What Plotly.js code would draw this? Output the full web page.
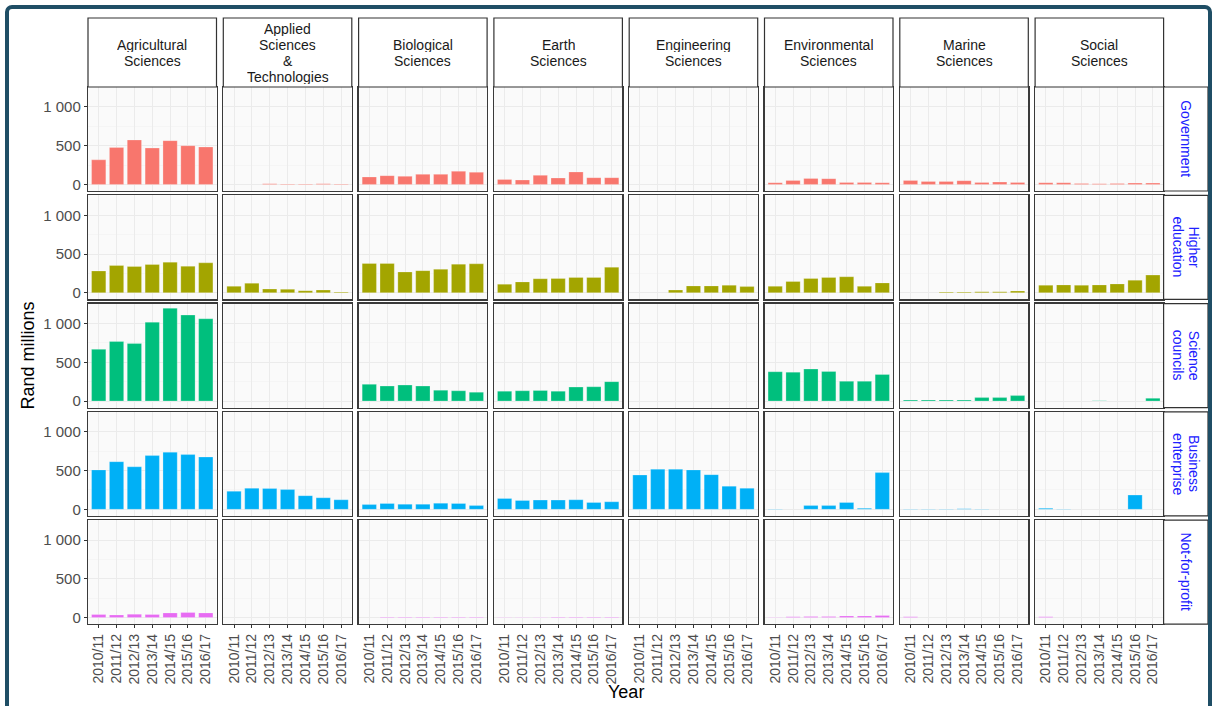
<!DOCTYPE html>
<html>
<head>
<meta charset="utf-8">
<script src="https://cdn.plot.ly/plotly-3.0.1.min.js"></script>
<style>
  html, body { margin: 0; padding: 0; background: #ffffff; overflow: hidden; }
  #chart { position: absolute; left: 0; top: 0; width: 1215px; height: 706px; }
  #frame { position: absolute; left: 5px; top: 5px; width: 1199px; height: 760px;
           border: 4px solid #1F4E65; border-radius: 7px; pointer-events: none; }
</style>
</head>
<body>
<div id="chart"></div>
<div id="frame"></div>
<script>
// ---------- data ----------
const years = ['2010/11', '2011/12', '2012/13', '2013/14', '2014/15', '2015/16', '2016/17'];
const fieldLabels = ['Agricultural<br>Sciences', 'Applied<br>Sciences<br>&<br>Technologies', 'Biological<br>Sciences',
  'Earth<br>Sciences', 'Engineering<br>Sciences', 'Environmental<br>Sciences', 'Marine<br>Sciences', 'Social<br>Sciences'];
const sectorLabels = ['Government', 'Higher<br>education', 'Science<br>councils', 'Business<br>enterprise', 'Not-for-profit'];
const sectorColors = ['#F8766D', '#A3A500', '#00BF7D', '#00B0F6', '#E76BF3'];
const yTickVals = [0, 500, 1000];
const yTickText = ['0', '500', '1 000'];

// values in Rand millions, one row per field (in fieldLabels order), one value per year
const government = [
  [317, 478, 574, 470, 565, 500, 483],
  [null, null, 8, 6, 6, 8, 6],
  [96, 113, 104, 130, 130, 170, 157],
  [65, 57, 117, 83, 161, 87, 87],
  [null, null, null, null, null, null, null],
  [22, 52, 78, 74, 26, 26, 22],
  [52, 39, 39, 48, 26, 30, 26],
  [22, 22, 13, 9, 13, 17, 17]
];
const higherEducation = [
  [281, 351, 338, 364, 395, 342, 386],
  [83, 123, 48, 44, 26, 35, 9],
  [378, 378, 268, 285, 303, 369, 373],
  [110, 140, 180, 184, 198, 198, 329],
  [null, null, 35, 88, 88, 97, 79],
  [83, 145, 184, 198, 206, 83, 127],
  [null, null, 9, 9, 13, 13, 22],
  [97, 101, 97, 101, 114, 162, 228]
];
const scienceCouncils = [
  [667, 768, 742, 1018, 1198, 1110, 1062],
  [null, null, null, null, null, null, null],
  [215, 193, 206, 193, 140, 132, 114],
  [127, 132, 136, 127, 180, 184, 250],
  [null, null, null, null, null, null, null],
  [378, 373, 413, 382, 255, 255, 342],
  [13, 13, 13, 13, 44, 44, 70],
  [null, null, null, 5, null, null, 35]
];
const businessEnterprise = [
  [509, 615, 549, 694, 738, 707, 676],
  [233, 272, 268, 255, 176, 149, 123],
  [61, 75, 66, 66, 79, 75, 48],
  [140, 114, 119, 119, 123, 88, 97],
  [443, 518, 518, 509, 448, 299, 272],
  [4, null, 48, 48, 88, 13, 474],
  [5, 5, 5, 8, 5, null, null],
  [13, 5, null, null, null, 184, null]
];
const notForProfit = [
  [40, 35, 44, 40, 61, 66, 61],
  [null, null, null, null, null, null, null],
  [null, 8, 8, 8, 8, 8, 8],
  [4, 4, 4, 8, 8, 8, 8],
  [null, null, null, null, null, null, null],
  [5, 10, 13, 13, 22, 22, 26],
  [10, null, null, null, null, null, null],
  [10, null, null, null, null, null, null]
];
const sectorData = [government, higherEducation, scienceCouncils, businessEnterprise, notForProfit];

// ---------- layout geometry (pixels) ----------
const W = 1215, H = 706;
const colLeft0 = 88, colPitch = 135.3, colW = 128.5;
const rowTop0 = 87, rowPitch = 108.3, rowH = 104;
const stripTop = 18;
const rStripRight = 1208;
const lineStep = 16;
const nRows = sectorLabels.length, nCols = fieldLabels.length;

const px = v => v / W;
const py = v => 1 - v / H;

const traces = [];
const layout = {
  width: W, height: H,
  margin: {l: 0, r: 0, t: 0, b: 0},
  paper_bgcolor: '#ffffff',
  plot_bgcolor: '#FAFAFA',
  showlegend: false,
  hovermode: false,
  font: {family: '"Liberation Sans", Arial, sans-serif', color: '#4D4D4D', size: 13},
  shapes: [],
  annotations: []
};

for (let r = 0; r < nRows; r++) {
  for (let c = 0; c < nCols; c++) {
    const k = r * nCols + c + 1;
    const left = colLeft0 + c * colPitch;
    const top = rowTop0 + r * rowPitch;
    const sfx = k === 1 ? '' : String(k);
    const isBottom = r === nRows - 1;
    const isLeft = c === 0;
    layout['xaxis' + sfx] = {
      domain: [px(left), px(left + colW)],
      anchor: 'y' + sfx,
      type: 'category',
      categoryorder: 'array', categoryarray: years,
      range: [-0.6, 6.6],
      showline: true, mirror: true, linecolor: '#3A3A3A', linewidth: 1.2,
      showgrid: true, gridcolor: '#EBEBEB', gridwidth: 1,
      zeroline: false,
      ticks: isBottom ? 'outside' : '', ticklen: 3, tickcolor: '#333333', tickwidth: 1,
      showticklabels: isBottom,
      tickangle: -90,
      tickfont: {size: 14, color: '#4D4D4D'},
      fixedrange: true
    };
    layout['yaxis' + sfx] = {
      domain: [py(top + rowH), py(top)],
      anchor: 'x' + sfx,
      range: [-85, 1258],
      tickmode: 'array', tickvals: yTickVals, ticktext: yTickText,
      showline: true, mirror: true, linecolor: '#3A3A3A', linewidth: 1.2,
      showgrid: true, gridcolor: '#EBEBEB', gridwidth: 1,
      minor: {tickmode: 'array', tickvals: [250, 750, 1250], showgrid: true, gridcolor: '#F2F2F2', gridwidth: 0.6, ticks: ''},
      zeroline: false,
      ticks: isLeft ? 'outside' : '', ticklen: 3, tickcolor: '#333333', tickwidth: 1,
      showticklabels: isLeft,
      tickfont: {size: 15, color: '#4D4D4D'},
      fixedrange: true
    };
    traces.push({
      type: 'bar',
      x: years,
      y: sectorData[r][c],
      xaxis: 'x' + sfx,
      yaxis: 'y' + sfx,
      width: 0.8,
      marker: {color: sectorColors[r], line: {color: 'rgba(255,255,255,0.35)', width: 0.7}},
      hoverinfo: 'skip'
    });
  }
}

// top strips
for (let c = 0; c < nCols; c++) {
  const left = colLeft0 + c * colPitch;
  layout.shapes.push({
    type: 'rect', xref: 'paper', yref: 'paper',
    x0: px(left), x1: px(left + colW), y0: py(rowTop0), y1: py(stripTop),
    fillcolor: '#ffffff', line: {color: '#333333', width: 1.2}
  });
  const lines = fieldLabels[c].split('<br>');
  const cy = (stripTop + rowTop0) / 2;
  lines.forEach((ln, i) => {
    layout.annotations.push({
      xref: 'paper', yref: 'paper',
      x: px(left + colW / 2), y: py(cy + (i - (lines.length - 1) / 2) * lineStep),
      text: ln, showarrow: false,
      xanchor: 'center', yanchor: 'middle',
      height: 15, borderpad: 0,
      font: {size: 14, color: '#1A1A1A'}
    });
  });
}
// right strips
const rLeft = colLeft0 + (nCols - 1) * colPitch + colW;
for (let r = 0; r < nRows; r++) {
  const top = rowTop0 + r * rowPitch;
  layout.shapes.push({
    type: 'rect', xref: 'paper', yref: 'paper',
    x0: px(rLeft), x1: px(rStripRight), y0: py(top + rowH), y1: py(top),
    fillcolor: '#ffffff', line: {color: '#333333', width: 1.2}
  });
  const lines = sectorLabels[r].split('<br>');
  const cx = (rLeft + rStripRight) / 2;
  lines.forEach((ln, i) => {
    layout.annotations.push({
      xref: 'paper', yref: 'paper',
      x: px(cx + ((lines.length - 1) / 2 - i) * lineStep), y: py(top + rowH / 2),
      text: ln, showarrow: false, textangle: 90,
      xanchor: 'center', yanchor: 'middle',
      height: 15, borderpad: 0,
      font: {size: 14, color: '#2020FF'}
    });
  });
}
// axis titles
layout.annotations.push({
  xref: 'paper', yref: 'paper', x: px(28), y: py(rowTop0 + ((nRows - 1) * rowPitch + rowH) / 2),
  text: 'Rand millions', showarrow: false, textangle: -90,
  xanchor: 'center', yanchor: 'middle', font: {size: 18, color: '#000000'}
});
layout.annotations.push({
  xref: 'paper', yref: 'paper', x: px(colLeft0 + ((nCols - 1) * colPitch + colW) / 2), y: py(692),
  text: 'Year', showarrow: false,
  xanchor: 'center', yanchor: 'middle', font: {size: 18, color: '#000000'}
});

Plotly.newPlot('chart', traces, layout, {staticPlot: true, displayModeBar: false});
</script>
</body>
</html>
